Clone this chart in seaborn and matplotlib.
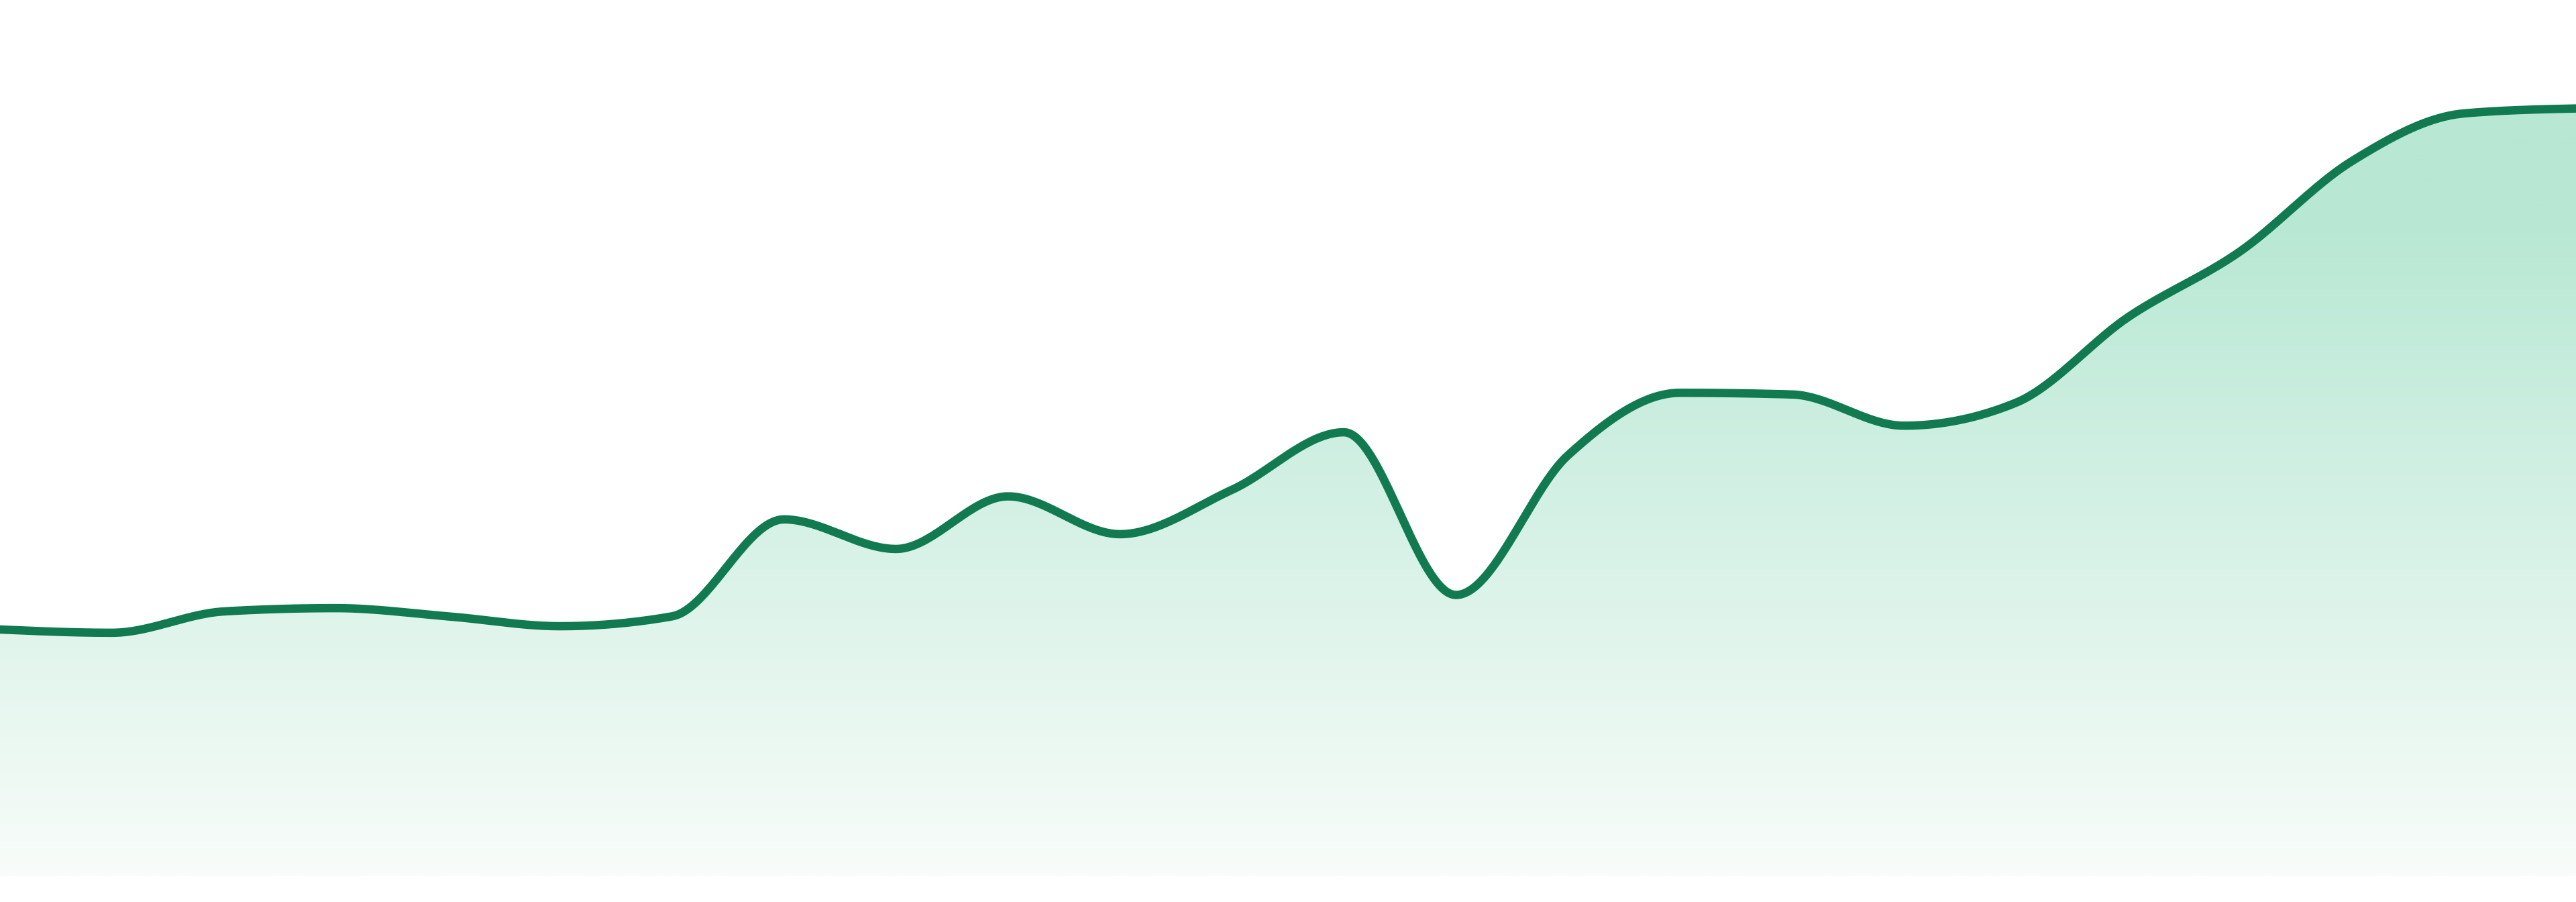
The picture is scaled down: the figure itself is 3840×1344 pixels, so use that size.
import numpy as np
import matplotlib
matplotlib.use("Agg")
import matplotlib.pyplot as plt
from matplotlib.colors import LinearSegmentedColormap
import seaborn as sns

# -------------------------
# Data (one value per period)
# -------------------------
periods = list(range(24))
values = [150, 148, 161, 163, 158, 152, 158, 217, 199, 231, 208, 235,
          270, 171, 256, 294, 293, 274, 288, 340, 380, 435, 464, 467]

line_color = "#117a50"
fill_top = "#b8e8d4"
fill_bottom = "#f8fcfa"


# monotone cubic curve (like d3 curveMonotoneX) for drawing the smooth line
def monotone_curve(x, y, steps=40):
    x = np.asarray(x, float)
    y = np.asarray(y, float)
    h = np.diff(x)
    s = np.diff(y) / h
    t = np.zeros_like(y)
    for i in range(1, len(y) - 1):
        p = (s[i - 1] * h[i] + s[i] * h[i - 1]) / (h[i - 1] + h[i])
        t[i] = (np.sign(s[i - 1]) + np.sign(s[i])) * min(abs(s[i - 1]), abs(s[i]), 0.5 * abs(p))
    t[0] = (3 * s[0] - t[1]) / 2
    t[-1] = (3 * s[-1] - t[-2]) / 2
    xs, ys = [], []
    for i in range(len(h)):
        u = np.linspace(0, 1, steps, endpoint=False)
        x0, x1 = x[i], x[i + 1]
        dx = (x1 - x0) / 3
        p0, p1 = y[i], y[i] + dx * t[i]
        p2, p3 = y[i + 1] - dx * t[i + 1], y[i + 1]
        xs.append(x0 + u * (x1 - x0))
        ys.append((1 - u) ** 3 * p0 + 3 * (1 - u) ** 2 * u * p1 + 3 * (1 - u) * u ** 2 * p2 + u ** 3 * p3)
    xs.append([x[-1]])
    ys.append([y[-1]])
    return np.concatenate(xs), np.concatenate(ys)


xd, yd = monotone_curve(periods, values)

# -------------------------
# Plot
# -------------------------
sns.set_style("white")
fig = plt.figure(figsize=(38.4, 13.44), dpi=100)
ax = fig.add_axes([0, 0, 1, 1])

# gradient area under the line (solid near the top, fading out downwards)
area = ax.fill_between(xd, yd, 0, facecolor="none", edgecolor="none")
cmap = LinearSegmentedColormap.from_list(
    "area", [(0.0, fill_bottom), (0.85, fill_top), (1.0, fill_top)])
grad = np.linspace(0, 1, 512).reshape(-1, 1)
img = ax.imshow(grad, cmap=cmap, aspect="auto", origin="lower",
                extent=[periods[0], periods[-1], 0, max(values)], zorder=1)
img.set_clip_path(area.get_paths()[0], transform=ax.transData)

sns.lineplot(x=xd, y=yd, ax=ax, color=line_color, linewidth=9,
             estimator=None, sort=False, zorder=3)
ax.lines[-1].set_solid_capstyle("round")

# limits last, so nothing above can reset them
ax.set_xlim(periods[0], periods[-1])
ax.set_ylim(-15.8, 533)
ax.axis("off")
fig.savefig("out.png", dpi=100, facecolor="white")
